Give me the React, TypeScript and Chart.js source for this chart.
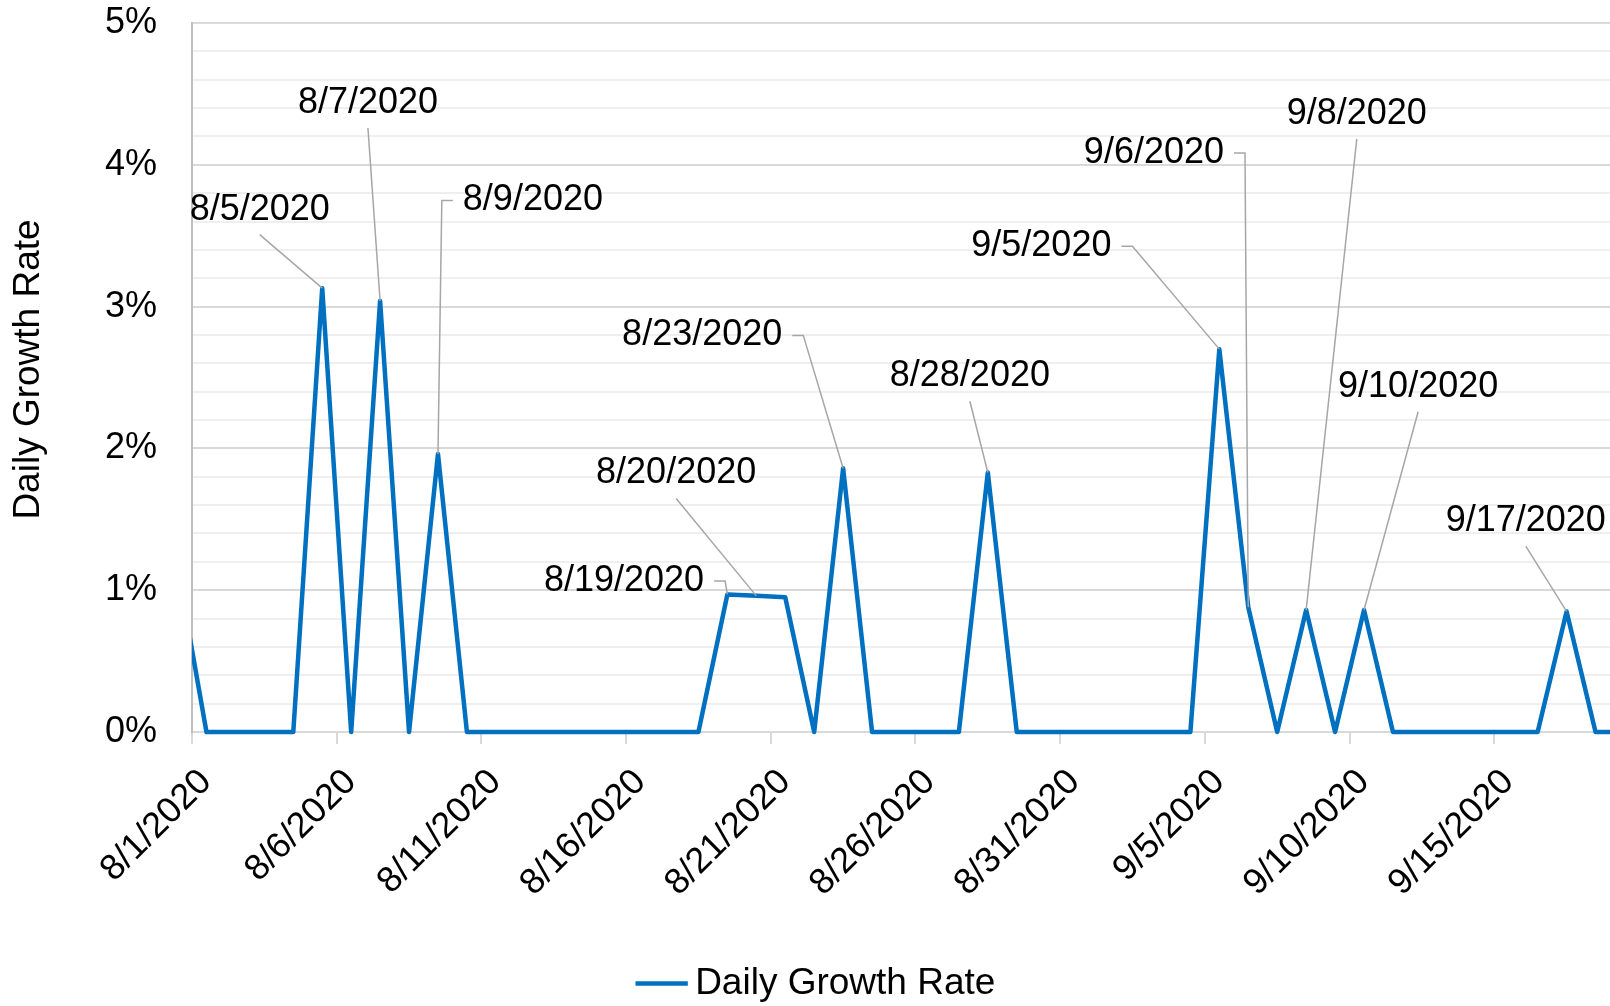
import React, { useEffect, useRef } from 'react';
import { Chart, registerables } from 'chart.js';

Chart.register(...registerables);

// One entry per day; 7/31 and 9/19 sit just outside the visible axis range.
const DATES = [
  '7/31/2020',
  '8/1/2020', '8/2/2020', '8/3/2020', '8/4/2020', '8/5/2020', '8/6/2020', '8/7/2020', '8/8/2020',
  '8/9/2020', '8/10/2020', '8/11/2020', '8/12/2020', '8/13/2020', '8/14/2020', '8/15/2020', '8/16/2020',
  '8/17/2020', '8/18/2020', '8/19/2020', '8/20/2020', '8/21/2020', '8/22/2020', '8/23/2020', '8/24/2020',
  '8/25/2020', '8/26/2020', '8/27/2020', '8/28/2020', '8/29/2020', '8/30/2020', '8/31/2020',
  '9/1/2020', '9/2/2020', '9/3/2020', '9/4/2020', '9/5/2020', '9/6/2020', '9/7/2020', '9/8/2020',
  '9/9/2020', '9/10/2020', '9/11/2020', '9/12/2020', '9/13/2020', '9/14/2020', '9/15/2020', '9/16/2020',
  '9/17/2020', '9/18/2020', '9/19/2020',
];

// Daily growth rate in percent
const VALUES = [
  1.16,
  0, 0, 0, 0, 3.13, 0, 3.04, 0,
  1.96, 0, 0, 0, 0, 0, 0, 0,
  0, 0, 0.97, 0.96, 0.95, 0, 1.86, 0,
  0, 0, 0, 1.83, 0, 0, 0,
  0, 0, 0, 0, 2.70, 0.88, 0, 0.86,
  0, 0.86, 0, 0, 0, 0, 0, 0,
  0.85, 0, 0,
];

const SERIES_NAME = 'Daily Growth Rate';
const Y_TITLE = 'Daily Growth Rate';

const X_FIRST = '8/1/2020';
const X_LAST = '9/19/2020';
const X_TICK_LABELS = ['8/1/2020', '8/6/2020', '8/11/2020', '8/16/2020', '8/21/2020', '8/26/2020', '8/31/2020', '9/5/2020', '9/10/2020', '9/15/2020'];

const Y_MIN = 0;
const Y_MAX = 5;
const Y_MINOR_STEP = 0.2;

// Callout labels: which point, where the label sits (in axis units: day, percent), and where the leader leaves it
const CALLOUT_DATES = ['8/5/2020', '8/7/2020', '8/9/2020', '8/19/2020', '8/20/2020', '8/23/2020', '8/28/2020', '9/5/2020', '9/6/2020', '9/8/2020', '9/10/2020', '9/17/2020'];
const CALLOUT_X = [2.34, 6.08, 11.78, 14.93, 16.73, 17.63, 26.88, 29.35, 33.24, 40.25, 42.37, 46.09];
const CALLOUT_Y = [3.684, 4.436, 3.748, 1.064, 1.823, 2.797, 2.509, 3.425, 4.083, 4.359, 2.435, 1.487];
const CALLOUT_SIDE = ['below', 'below', 'left', 'right', 'below', 'right', 'below', 'right', 'right', 'below', 'below', 'below'];

const FONT_FAMILY = '"Liberation Sans", Arial, Helvetica, sans-serif';
const LINE_COLOR = '#0070C0';

const dayPos = (label: string) => DATES.indexOf(label) - 1; // left edge of the day's slot
const pointPos = (i: number) => i - 0.5; // centre of slot for DATES[i]

const calloutPlugin = {
  id: 'calloutLabels',
  afterDatasetsDraw(chart: any) {
    const { ctx } = chart;
    const xs = chart.scales.x;
    const ys = chart.scales.y;
    ctx.save();
    ctx.font = `36px ${FONT_FAMILY}`;
    ctx.textAlign = 'center';
    ctx.textBaseline = 'middle';
    CALLOUT_DATES.forEach((d, k) => {
      const idx = DATES.indexOf(d);
      const px = xs.getPixelForValue(pointPos(idx));
      const py = ys.getPixelForValue(VALUES[idx]);
      const cx = xs.getPixelForValue(CALLOUT_X[k]);
      const cy = ys.getPixelForValue(CALLOUT_Y[k]);
      const w = ctx.measureText(d).width;
      ctx.strokeStyle = '#a6a6a6';
      ctx.lineWidth = 1.5;
      ctx.beginPath();
      const side = CALLOUT_SIDE[k];
      if (side === 'below') {
        ctx.moveTo(cx, cy + 25);
        ctx.lineTo(px, py);
      } else if (side === 'right') {
        const sx = cx + w / 2 + 10;
        ctx.moveTo(sx, cy);
        ctx.lineTo(sx + 11, cy);
        ctx.lineTo(px, py);
      } else {
        const sx = cx - w / 2 - 10;
        ctx.moveTo(sx, cy);
        ctx.lineTo(sx - 11, cy);
        ctx.lineTo(px, py);
      }
      ctx.stroke();
      ctx.fillStyle = '#000';
      ctx.fillText(d, cx, cy);
    });
    ctx.restore();
  },
};

// Vertical axis title, centred a little above the middle of the plot area
const yTitlePlugin = {
  id: 'yTitle',
  afterDraw(chart: any) {
    const { ctx, chartArea } = chart;
    ctx.save();
    ctx.font = `37px ${FONT_FAMILY}`;
    ctx.fillStyle = '#000';
    ctx.textAlign = 'center';
    ctx.textBaseline = 'middle';
    ctx.translate(29, (chartArea.top + chartArea.bottom) / 2 - 8);
    ctx.rotate(-Math.PI / 2);
    ctx.fillText(Y_TITLE, 0, 0);
    ctx.restore();
  },
};

const legendNudge = {
  id: 'legendNudge',
  afterLayout(chart: any) {
    const l = chart.legend;
    if (l) {
      l.left += 16;
      l.right += 16;
      l.top += 6;
      l.bottom += 6;
    }
  },
};

export default function App() {
  const canvasRef = useRef<HTMLCanvasElement | null>(null);

  useEffect(() => {
    if (!canvasRef.current) return;
    const points = VALUES.map((v, i) => ({ x: pointPos(i), y: v }));
    const isMajor = (v: number) => Math.abs(v - Math.round(v)) < 1e-6;

    const chart = new Chart(canvasRef.current, {
      type: 'line',
      data: {
        datasets: [
          {
            label: SERIES_NAME,
            data: points,
            borderColor: LINE_COLOR,
            backgroundColor: LINE_COLOR,
            borderWidth: 4.5,
            borderCapStyle: 'round',
            borderJoinStyle: 'round',
            pointRadius: 0,
            pointHoverRadius: 0,
            tension: 0,
            fill: false,
            clip: { left: 0, right: 0, top: false, bottom: false } as any,
          },
        ],
      },
      options: {
        animation: false,
        responsive: true,
        maintainAspectRatio: false,
        layout: { padding: { top: 23, left: 0, right: 0, bottom: 0 } },
        plugins: {
          legend: {
            position: 'bottom',
            labels: {
              usePointStyle: true,
              pointStyle: 'line',
              boxWidth: 30,
              boxHeight: 37,
              padding: 10,
              color: '#000',
              font: { size: 37, family: FONT_FAMILY },
            },
          },
          tooltip: { enabled: false },
        },
        scales: {
          x: {
            type: 'linear',
            min: dayPos(X_FIRST),
            max: dayPos(X_LAST),
            afterBuildTicks: (s: any) => {
              s.ticks = X_TICK_LABELS.map((l) => ({ value: dayPos(l) }));
            },
            afterFit: (s: any) => {
              s.height = 217;
              s.paddingLeft = 0;
              s.paddingRight = 0;
            },
            ticks: {
              autoSkip: false,
              maxRotation: 45,
              minRotation: 45,
              padding: 17,
              labelOffset: 14,
              color: '#000',
              font: { size: 36, family: FONT_FAMILY },
              callback: (v: any) => DATES[Math.round(Number(v)) + 1],
            },
            grid: {
              drawOnChartArea: false,
              drawTicks: true,
              tickLength: 12,
              color: '#d9d9d9',
              lineWidth: 2,
            },
            border: { display: true, color: '#d9d9d9', width: 2 },
          },
          y: {
            type: 'linear',
            min: Y_MIN,
            max: Y_MAX,
            afterBuildTicks: (s: any) => {
              const t: any[] = [];
              const n = Math.round((Y_MAX - Y_MIN) / Y_MINOR_STEP);
              for (let k = 0; k <= n; k++) t.push({ value: Math.round((Y_MIN + k * Y_MINOR_STEP) * 1000) / 1000 });
              s.ticks = t;
            },
            afterFit: (s: any) => {
              s.width = 192;
              s.paddingTop = 0;
              s.paddingBottom = 0;
            },
            ticks: {
              autoSkip: false,
              padding: 35,
              color: '#000',
              font: { size: 36, family: FONT_FAMILY },
              callback: (v: any) => (isMajor(Number(v)) ? `${Math.round(Number(v))}%` : ''),
            },
            grid: {
              drawTicks: false,
              color: (c: any) => (c.tick && isMajor(c.tick.value) ? '#d9d9d9' : '#efefef'),
              lineWidth: 2,
            },
            border: { display: true, color: '#bfbfbf', width: 2 },
            title: { display: false },
          },
        },
      },
      plugins: [calloutPlugin, yTitlePlugin, legendNudge],
    } as any);

    return () => chart.destroy();
  }, []);

  return (
    <div style={{ position: 'fixed', left: 0, top: 0, width: 1610, height: 1006, background: '#fff' }}>
      <canvas ref={canvasRef} />
    </div>
  );
}
